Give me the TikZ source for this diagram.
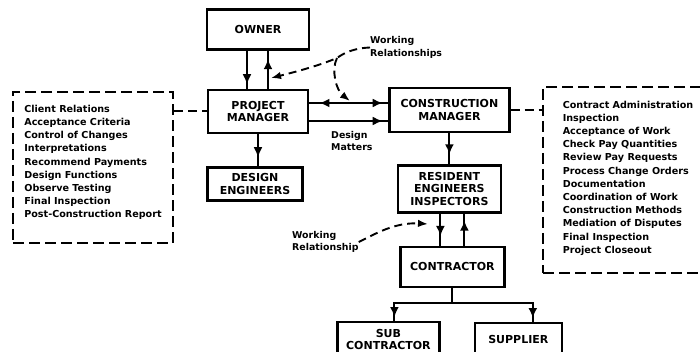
\documentclass[tikz,border=0pt]{standalone}
\usepackage{fontspec}
\setmainfont{DejaVu Sans}
\usepackage{tikz}
\usetikzlibrary{arrows.meta,positioning,decorations.markings}

\tikzset{
  unit/.style={draw,line width=2.4pt,align=center,inner sep=0pt,font=\fontsize{11}{12.5}\selectfont\bfseries},
  duties/.style={draw,line width=2pt,dash pattern=on 11pt off 5pt,align=left,inner sep=0pt,font=\fontsize{9.6}{13.2}\selectfont\bfseries},
  note/.style={align=left,inner sep=0pt,font=\fontsize{9.4}{12.5}\selectfont\bfseries},
  link/.style={line width=2pt},
  dutylink/.style={line width=2pt,dash pattern=on 9pt off 5pt},
  wrlink/.style={line width=1.9pt,dash pattern=on 8pt off 5pt,-{Latex[length=10pt,width=7.5pt]}},
  tipat/.style={postaction={decorate,decoration={markings,mark=at position #1 with {\arrow{Latex[length=10pt,width=9pt]}}}}},
  backtipat/.style={postaction={decorate,decoration={markings,mark=at position #1 with {\arrowreversed{Latex[length=10pt,width=9pt]}}}}}
}

\begin{document}
\begin{tikzpicture}[x=1pt,y=-1pt]
\useasboundingbox (0,0) rectangle (700,352);
\clip (0,0) rectangle (700,352);
% organisation boxes
\node[unit,minimum width=100pt,minimum height=43pt] (pm) at (258,111.5) {PROJECT\\MANAGER};
\node[unit,minimum width=102pt,minimum height=40pt,above=38pt of pm] (owner) {OWNER};
\node[unit,minimum width=95pt,minimum height=33pt,below=32pt of pm,xshift=-3pt] (de) {DESIGN\\ENGINEERS};
\node[unit,minimum width=120pt,minimum height=44pt,right=79pt of pm,yshift=1.5pt] (cm) {CONSTRUCTION\\MANAGER};
\node[unit,minimum width=103pt,minimum height=47pt,below=31pt of cm] (re) {RESIDENT\\ENGINEERS\\INSPECTORS};
\node[unit,minimum width=104pt,minimum height=40pt,below=32pt of re,xshift=3pt] (contractor) {CONTRACTOR};
\node[unit,minimum width=102pt,minimum height=35pt,below=33pt of contractor,xshift=-64pt] (sub) {SUB\\CONTRACTOR};
\node[unit,minimum width=87pt,minimum height=33pt,right=33pt of sub] (supplier) {SUPPLIER};
% duty lists
\node[duties,minimum width=160pt,minimum height=151pt,text depth=12pt] (pmduties) at (93,167.5) {Client Relations\\Acceptance Criteria\\Control of Changes\\Interpretations\\Recommend Payments\\Design Functions\\Observe Testing\\Final Inspection\\Post-Construction Report};
\node[duties,minimum width=170pt,minimum height=186pt,text depth=6pt] (cmduties) at (628,180) {Contract Administration\\Inspection\\Acceptance of Work\\Check Pay Quantities\\Review Pay Requests\\Process Change Orders\\Documentation\\Coordination of Work\\Construction Methods\\Mediation of Disputes\\Final Inspection\\Project Closeout};
% labels
\node[note,anchor=north west] (wrtop) at (370,36.5) {Working\\Relationships};
\node[note,anchor=north west] (dm) at (331,131) {Design\\Matters};
\node[note,anchor=north west] (wrlow) at (292,231) {Working\\Relationship};
% connectors
\draw[link,tipat=0.88] ([xshift=-11pt]owner.south) -- ([xshift=-11pt]owner.south |- pm.north);
\draw[link,tipat=0.78] ([xshift=10pt]owner.south |- pm.north) -- ([xshift=10pt]owner.south);
\draw[link,tipat=0.93,backtipat=0.13] ([yshift=8.5pt]pm.east) -- ([yshift=8.5pt]pm.east -| cm.west);
\draw[link,tipat=0.93] ([yshift=-9.5pt]pm.east) -- ([yshift=-9.5pt]pm.east -| cm.west);
\draw[link,tipat=0.72] (pm.south) -- (pm.south |- de.north);
\draw[link,tipat=0.68] (cm.south) -- (cm.south |- re.north);
\draw[link,tipat=0.7] ([xshift=-12pt]contractor.north |- re.south) -- ([xshift=-12pt]contractor.north);
\draw[link,tipat=0.78] ([xshift=12pt]contractor.north) -- ([xshift=12pt]contractor.north |- re.south);
\coordinate (split) at ([yshift=-15pt]contractor.south);
\draw[link] (contractor.south) -- (split);
\draw[link,tipat=-4pt] (split) -| ([xshift=6pt]sub.north);
\draw[link,tipat=-4pt] (split) -| ([xshift=14.5pt]supplier.north);
\draw[dutylink] (pmduties.east |- pm.west) -- (pm.west);
\draw[dutylink] (cm.east) -- (cm.east -| cmduties.west);
% working relationships
\coordinate (wrsplit) at (337,58);
\coordinate (pmupline) at (271,78);
\coordinate (pmcmline) at (350,101);
\coordinate (reline) at (428,224);
\draw[wrlink] (wrtop.west) .. controls (356,48) and (345,52) .. (wrsplit) .. controls (318,66) and (295,72) .. (pmupline);
\draw[wrlink] (wrsplit) .. controls (331,70) and (336,90) .. (pmcmline);
\draw[wrlink] (wrlow.east) .. controls (375,234) and (395,222) .. (reline);
\end{tikzpicture}
\end{document}
